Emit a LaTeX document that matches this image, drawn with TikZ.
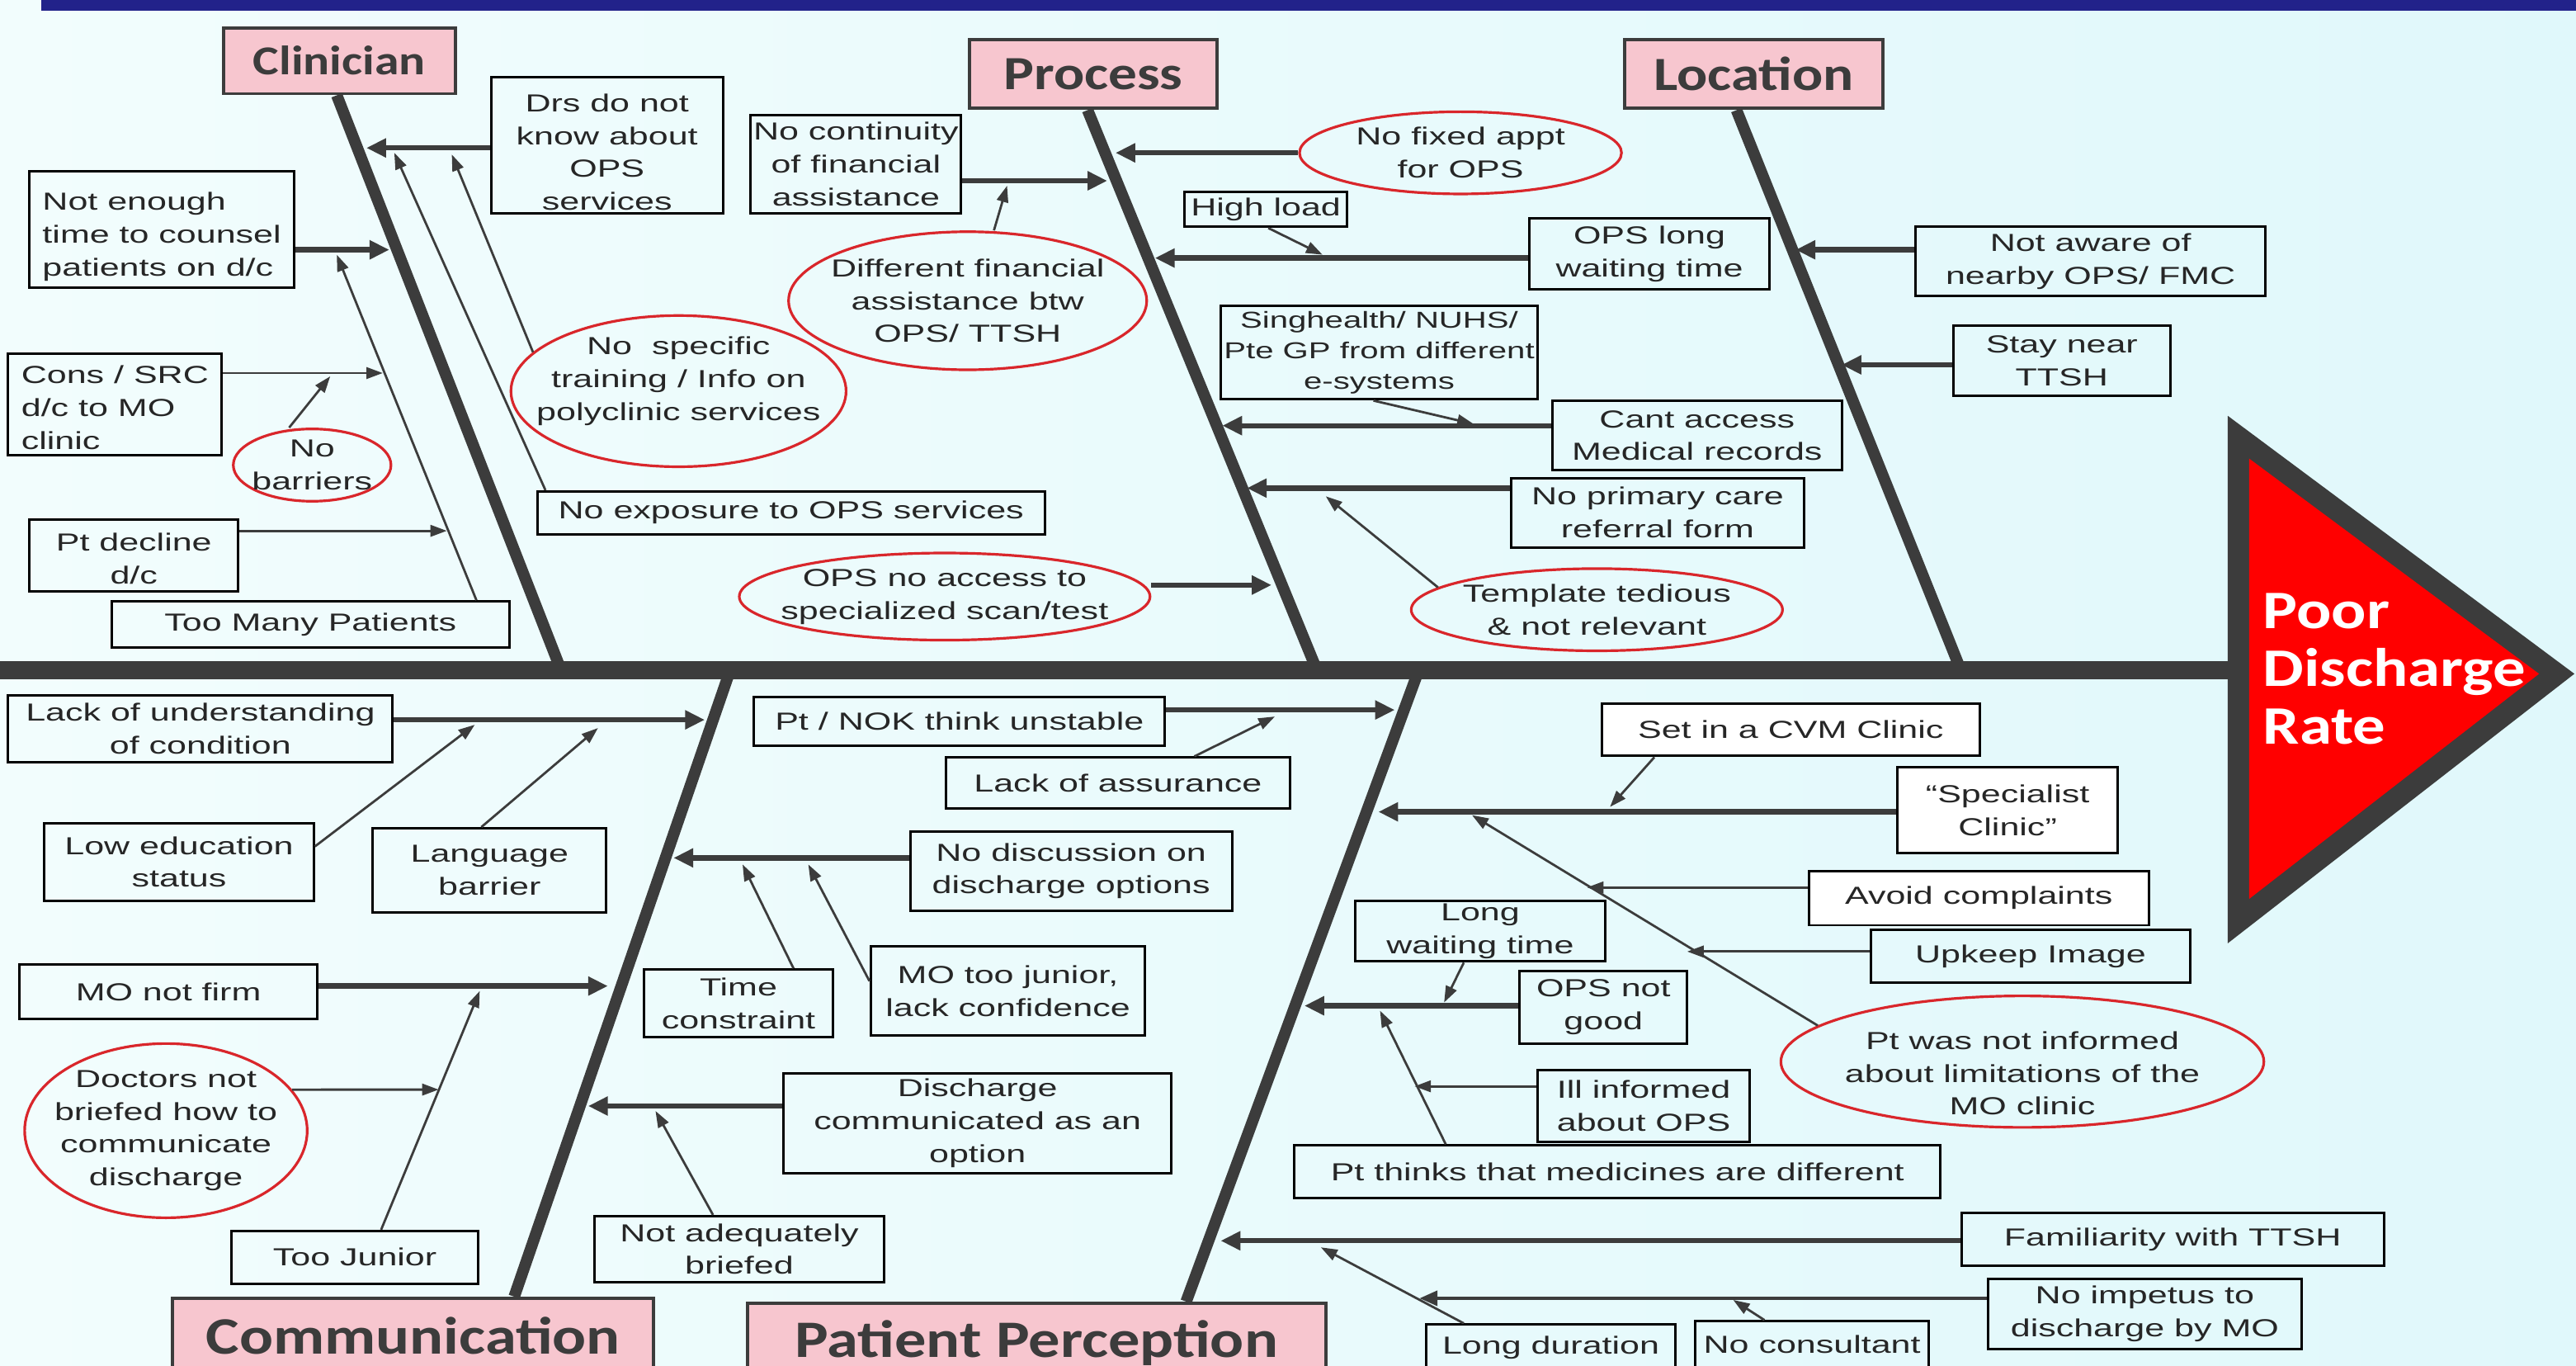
\documentclass[tikz,border=0pt]{standalone}
\usepackage{fontspec}
\setmainfont{Liberation Sans}[FakeStretch=1.44]
\newfontfamily\catfont{Carlito}[FakeStretch=1.2]
\usetikzlibrary{arrows.meta,shapes.geometric}

\definecolor{bonegray}{HTML}{3C3C3C}
\definecolor{txt}{HTML}{262626}
\definecolor{catpink}{HTML}{F7C6CF}
\definecolor{ovalred}{HTML}{D9262B}
\definecolor{navy}{HTML}{22228A}
\definecolor{bgleft}{HTML}{F2FDFD}
\definecolor{bgright}{HTML}{E0F8FB}
\definecolor{headred}{HTML}{FF0000}

% pushes the first line of a node down
\newcommand{\topgap}[1]{\rule{0pt}{#1}}

\begin{document}
\begin{tikzpicture}[x=1pt,y=-1pt,
    raise text/.style={execute at end node={\rule[-#1]{0pt}{#1}}},
    cause/.style={draw=black,line width=1.5pt,inner sep=0pt,align=center,text=txt,
      font=\fontsize{15}{20}\selectfont},
    oval/.style={ellipse,draw=ovalred,line width=1.6pt,inner sep=-30pt,align=center,text=txt,
      font=\fontsize{15}{20}\selectfont},
    category/.style={draw=bonegray,line width=2pt,fill=catpink,inner sep=0pt,text=bonegray,
      font=\catfont\bfseries\fontsize{#1}{#1}\selectfont},
    spine/.style={draw=bonegray,line width=11pt},
    bone/.style={draw=bonegray,line width=7pt},
    thickarr/.style={draw=bonegray,line width=3.2pt,-{Triangle[length=12pt,width=11pt]}},
    midarr/.style={draw=bonegray,line width=2.2pt,-{Triangle[length=11pt,width=9pt]}},
    thinarr/.style={draw=bonegray,line width=1.4pt,-{Triangle[length=10pt,width=7pt]}}]

    \useasboundingbox (0,0) rectangle (1568,831);
    \clip (0,0) rectangle (1568,831);
    \fill[left color=bgleft,right color=bgright] (0,0) rectangle (1568,831);
    \fill[navy] (25,0) rectangle (1568,6.5);

    % spine and head
    \draw[spine] (0,408) -- (1358,408);
    \fill[bonegray] (1356,253) -- (1356,574) -- (1567,410) -- cycle;
    \fill[headred] (1369,279) -- (1369,547) -- (1545.5,410) -- cycle;
    \node[anchor=west,align=left,text=white,font=\catfont\bfseries\fontsize{33}{35}\selectfont]
      (effect) at (1374,407) {Poor\\Discharge\\Rate};

    % categories
    \node[category=25,minimum width=141,minimum height=40] (cl) at (206.5,37) {Clinician};
    \node[category=29,minimum width=151,minimum height=42] (pr) at (665.5,45) {Process};
    \node[category=29,minimum width=157,minimum height=42] (loc) at (1067.5,45) {Location};
    \node[category=32,minimum width=293,minimum height=46] (comm) at (251.5,813) {Communication};
    \node[category=32,minimum width=352,minimum height=48] (pp) at (631,817) {Patient Perception};

    % bones
    \coordinate (sp1) at (340,404);
    \coordinate (sp2) at (800,404);
    \coordinate (sp3) at (1192,404);
    \coordinate (sp4) at (443,412);
    \coordinate (sp5) at (862,412);
    \draw[bone] (cl.south -| 205,0) -- (sp1);
    \draw[bone] (pr.south -| 662,0) -- (sp2);
    \draw[bone] (loc.south -| 1057,0) -- (sp3);
    \draw[bone] (comm.north -| 313,0) -- (sp4);
    \draw[bone] (pp.north -| 722,0) -- (sp5);

    % clinician
    \node[cause,minimum width=141,minimum height=83] (drs) at (369.5,88.5) {\topgap{19pt}Drs do not\\know about\\OPS\\services};
    \node[cause,align=left,minimum width=161,minimum height=71] (notenough) at (98.5,139.5) {\topgap{20pt}Not enough\\time to counsel\\patients on d/c};
    \node[cause,align=left,minimum width=130,minimum height=62] (cons) at (70,246) {\topgap{15pt}Cons / SRC\\d/c to MO\\clinic};
    \node[oval,minimum width=96,minimum height=44] (nobarr) at (190,283) {No\\barriers};
    \node[cause,minimum width=127,minimum height=44] (ptdecl) at (81.5,338) {\topgap{15pt}Pt decline\\d/c};
    \node[cause,minimum width=242,minimum height=28] (toomany) at (189,380) {Too Many Patients};
    \node[oval,raise text=15pt,minimum width=204,minimum height=92] (nospec) at (413,238) {No\ \ specific\\training / Info on\\polyclinic services};
    \node[cause,minimum width=309,minimum height=26] (noexp) at (481.5,312) {No exposure to OPS services};

    \coordinate (drsE) at (223,90);
    \draw[thickarr] (drs.west |- drsE) -- (drsE);
    \coordinate (enoughE) at (237,152);
    \draw[thickarr] (notenough.east |- enoughE) -- (enoughE);
    \coordinate (manyE) at (205,155);
    \draw[thinarr] (toomany.north -| 290,0) -- (manyE);
    \coordinate (consE) at (233,227);
    \draw[thinarr] (cons.east |- consE) -- (consE);
    \coordinate (declE) at (272,323);
    \draw[thinarr] (ptdecl.east |- declE) -- (declE);
    \coordinate (barrE) at (201,229);
    \draw[thinarr] (nobarr.north -| 176,0) -- (barrE);
    \coordinate (specE) at (275,94);
    \draw[thinarr] (nospec.165) -- (specE);
    \coordinate (expE) at (240,93);
    \draw[thinarr] (noexp.north -| 332,0) -- (expE);

    % process
    \node[cause,minimum width=128,minimum height=60] (contin) at (521,100) {No continuity\\of financial\\assistance};
    \node[oval,minimum width=218,minimum height=84] (difffin) at (589,183) {Different financial\\assistance btw\\OPS/ TTSH};
    \node[oval,minimum width=196,minimum height=50] (nofixed) at (889,93) {No fixed appt\\for OPS};
    \node[cause,minimum width=99,minimum height=21] (highload) at (770.5,127.5) {High load};
    \node[cause,minimum width=146,minimum height=43] (opslong) at (1004,154.5) {OPS long\\waiting time};
    \node[cause,minimum width=193,minimum height=57,font=\fontsize{14}{18.5}\selectfont] (singh) at (839.5,214.5)
      {Singhealth/ NUHS/\\Pte GP from different\\e-systems};
    \node[cause,minimum width=176,minimum height=42] (cant) at (1033,265) {Cant access\\Medical records};
    \node[cause,minimum width=178,minimum height=42] (noprim) at (1009,312) {No primary care\\referral form};
    \node[oval,minimum width=226,minimum height=50] (templ) at (972,371) {Template tedious\\\& not relevant};
    \node[oval,minimum width=250,minimum height=53] (opsnoacc) at (575,363) {OPS no access to\\specialized scan/test};

    \coordinate (continE) at (674,110);
    \draw[thickarr] (contin.east |- continE) -- (continE);
    \coordinate (finE) at (613,113);
    \draw[thinarr] (difffin.north -| 605,0) -- (finE);
    \coordinate (fixedE) at (679,93);
    \draw[thickarr] (nofixed.west) -- (fixedE);
    \coordinate (loadE) at (805,155);
    \draw[thinarr] (highload.south -| 772,0) -- (loadE);
    \coordinate (longE) at (703,157);
    \draw[thickarr] (opslong.west |- longE) -- (longE);
    \coordinate (singhE) at (897,258);
    \draw[thinarr] (singh.south -| 836,0) -- (singhE);
    \coordinate (cantE) at (744,259);
    \draw[thickarr] (cant.west |- cantE) -- (cantE);
    \coordinate (primE) at (759,297);
    \draw[thickarr] (noprim.west |- primE) -- (primE);
    \coordinate (templE) at (807,302);
    \draw[thinarr] (templ.172) -- (templE);
    \coordinate (accE) at (774,356);
    \draw[thickarr] (opsnoacc.east |- accE) -- (accE);

    % location
    \node[cause,minimum width=213,minimum height=42] (notaware) at (1272.5,159) {Not aware of\\nearby OPS/ FMC};
    \node[cause,minimum width=132,minimum height=43] (staynear) at (1255,219.5) {Stay near\\TTSH};

    \coordinate (awareE) at (1093,152);
    \draw[thickarr] (notaware.west |- awareE) -- (awareE);
    \coordinate (nearE) at (1121,222);
    \draw[thickarr] (staynear.west |- nearE) -- (nearE);

    % communication
    \node[cause,minimum width=234,minimum height=41] (lackund) at (122,443.5) {Lack of understanding\\of condition};
    \node[cause,minimum width=164,minimum height=47] (lowedu) at (109,524.5) {Low education\\status};
    \node[cause,minimum width=142,minimum height=51] (lang) at (298,529.5) {Language\\barrier};
    \node[cause,minimum width=181,minimum height=33] (monot) at (102.5,603.5) {MO not firm};
    \node[oval,minimum width=172,minimum height=106] (doctors) at (101,688) {Doctors not\\briefed how to\\communicate\\discharge};
    \node[cause,minimum width=150,minimum height=32] (toojr) at (216,765) {Too Junior};
    \node[cause,minimum width=115,minimum height=41] (timec) at (449.5,610.5) {Time\\constraint};
    \node[cause,minimum width=167,minimum height=54] (mojr) at (613.5,603) {MO too junior,\\lack confidence};
    \node[cause,minimum width=196,minimum height=48] (nodisc) at (652,530) {No discussion on\\discharge options};
    \node[cause,minimum width=236,minimum height=61] (dischcomm) at (595,683.5) {Discharge\\communicated as an\\option};
    \node[cause,minimum width=176,minimum height=40] (notadeq) at (450,760) {Not adequately\\briefed};

    \coordinate (undE) at (429,438);
    \draw[thickarr] (lackund.east |- undE) -- (undE);
    \coordinate (eduE) at (289,441);
    \draw[thinarr] (lowedu.east |- 0,515) -- (eduE);
    \coordinate (langE) at (364,443);
    \draw[thinarr] (lang.north -| 293,0) -- (langE);
    \coordinate (firmE) at (370,600);
    \draw[thickarr] (monot.east |- firmE) -- (firmE);
    \coordinate (docE) at (267,663);
    \draw[thinarr] (doctors.18) -- (docE);
    \coordinate (jrE) at (292,603);
    \draw[thinarr] (toojr.north -| 232,0) -- (jrE);
    \coordinate (timeE) at (452,526);
    \draw[thinarr] (timec.north -| 483,0) -- (timeE);
    \coordinate (mojrE) at (492,526);
    \draw[thinarr] (mojr.west |- 0,597) -- (mojrE);
    \coordinate (discE) at (410,522);
    \draw[thickarr] (nodisc.west |- discE) -- (discE);
    \coordinate (commE) at (358,673);
    \draw[thickarr] (dischcomm.west |- commE) -- (commE);
    \coordinate (adeqE) at (399,676);
    \draw[thinarr] (notadeq.north -| 434,0) -- (adeqE);

    % patient perception
    \node[cause,minimum width=250,minimum height=30] (ptnok) at (584,439) {Pt / NOK think unstable};
    \node[cause,minimum width=209,minimum height=31] (lackass) at (680.5,476.5) {Lack of assurance};
    \node[cause,fill=white,minimum width=230,minimum height=32] (cvm) at (1090,444) {Set in a CVM Clinic};
    \node[cause,fill=white,minimum width=134,minimum height=52] (spec) at (1222,493) {“Specialist\\Clinic”};
    \node[cause,fill=white,minimum width=207,minimum height=33] (avoid) at (1204.5,546.5) {Avoid complaints};
    \node[cause,minimum width=194,minimum height=32] (upkeep) at (1236,582) {Upkeep Image};
    \node[oval,minimum width=294,minimum height=80] (ptinf) at (1231,646) {\topgap{25pt}Pt was not informed\\about limitations of the\\MO clinic};
    \node[cause,minimum width=152,minimum height=37] (longwait) at (901,566.5) {Long\\waiting time};
    \node[cause,minimum width=102,minimum height=44] (opsnot) at (976,613) {OPS not\\good};
    \node[cause,minimum width=129,minimum height=44] (ill) at (1000.5,673) {Ill informed\\about OPS};
    \node[cause,minimum width=393,minimum height=32] (ptthinks) at (984.5,713) {Pt thinks that medicines are different};
    \node[cause,minimum width=257,minimum height=32] (famil) at (1322.5,754) {Familiarity with TTSH};
    \node[cause,minimum width=191,minimum height=43] (noimp) at (1305.5,799.5) {No impetus to\\discharge by MO};
    \node[cause,minimum width=152,minimum height=28] (longdur) at (944,820) {Long duration};
    \node[cause,minimum width=142,minimum height=28] (nocons) at (1103,818) {No consultant};

    \coordinate (nokE) at (849,432);
    \draw[thickarr] (ptnok.east |- nokE) -- (nokE);
    \coordinate (assE) at (776,436);
    \draw[thinarr] (lackass.north -| 727,0) -- (assE);
    \coordinate (specE2) at (839,494);
    \draw[thickarr] (spec.west |- specE2) -- (specE2);
    \coordinate (cvmE) at (980,491);
    \draw[thinarr] (cvm.south -| 1007,0) -- (cvmE);
    \coordinate (infE) at (896,496);
    \draw[thinarr] (ptinf.170) -- (infE);
    \coordinate (avoidE) at (966,540);
    \draw[thinarr] (avoid.west |- avoidE) -- (avoidE);
    \coordinate (upkeepE) at (1027,579);
    \draw[thinarr] (upkeep.west |- upkeepE) -- (upkeepE);
    \coordinate (notgoodE) at (794,612);
    \draw[thickarr] (opsnot.west |- notgoodE) -- (notgoodE);
    \coordinate (waitE) at (879,610);
    \draw[thinarr] (longwait.south -| 891,0) -- (waitE);
    \coordinate (thinksE) at (840,615);
    \draw[thinarr] (ptthinks.north -| 880,0) -- (thinksE);
    \coordinate (illE) at (861,661);
    \draw[thinarr] (ill.west |- illE) -- (illE);
    \coordinate (familE) at (743,755);
    \draw[thickarr] (famil.west |- familE) -- (familE);
    \coordinate (impE) at (864,790);
    \draw[midarr] (noimp.west |- impE) -- (impE);
    \coordinate (durE) at (804,759);
    \draw[thinarr] (longdur.north -| 891,0) -- (durE);
    \coordinate (consultE) at (1055,791);
    \draw[thinarr] (nocons.north -| 1074,0) -- (consultE);
\end{tikzpicture}
\end{document}
